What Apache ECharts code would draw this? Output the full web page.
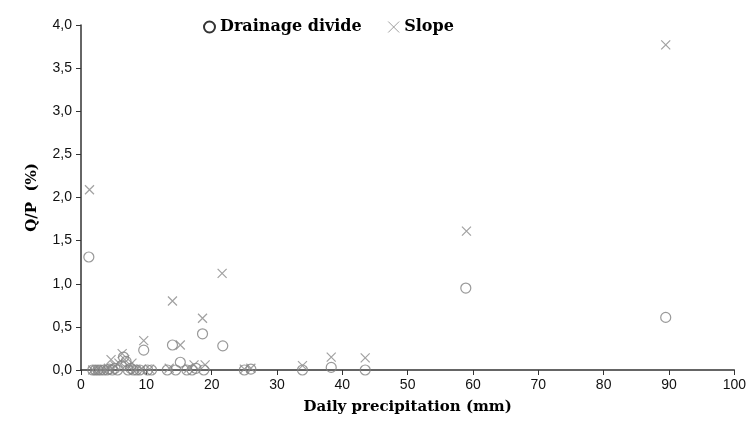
<!DOCTYPE html>
<html>
<head>
<meta charset="utf-8">
<script src="https://cdn.jsdelivr.net/npm/echarts@6/dist/echarts.min.js"></script>
<style>
html,body{margin:0;padding:0;background:#fff;}
#c{width:749px;height:422px;}
</style>
</head>
<body>
<div id="c"></div>
<script>
const seriesNames = ['Drainage divide', 'Slope'];
const drainageDivide = [
  [1.2,1.31],[1.8,0],[2.2,0],[2.6,0],[3.0,0],[3.5,0],[4.0,0],[4.3,0.01],[4.8,0],[5.2,0.02],
  [5.6,0],[6.2,0.05],[6.5,0.15],[6.9,0.1],[7.2,0],[7.6,0.02],[8.0,0],[8.5,0],[9.0,0],[9.6,0.23],
  [10.2,0],[10.8,0],[13.2,0],[14.0,0.29],[14.5,0],[15.2,0.09],[16.2,0],[17.0,0],[17.6,0.02],
  [18.6,0.42],[18.8,0],[21.7,0.28],[25.0,0],[26.0,0.01],[33.9,0],[38.3,0.03],[43.5,0],
  [58.9,0.95],[89.5,0.61]
];
const slope = [
  [1.3,2.09],[1.8,0],[2.4,0],[3.0,0],[3.6,0],[4.2,0.02],[4.6,0.12],[5.2,0.05],[5.8,0.08],
  [6.3,0.19],[6.7,0.12],[7.3,0.04],[7.8,0.08],[8.4,0],[9.2,0.01],[9.6,0.34],[10.5,0.01],
  [13.5,0.02],[14.0,0.8],[15.2,0.29],[16.5,0.02],[17.3,0.06],[18.6,0.6],[19.0,0.06],
  [21.6,1.12],[25.0,0.01],[26.0,0.02],[33.9,0.05],[38.3,0.15],[43.5,0.14],[59.0,1.61],[89.5,3.77]
];
const xAxisName = 'Daily precipitation (mm)';
const yAxisName = 'Q/P  (%)';

const crossPath = 'path://M0,0L10,10M10,0L0,10';
const chart = echarts.init(document.getElementById('c'));
chart.setOption({
  animation: false,
  backgroundColor: '#fff',
  grid: {left: 81, right: 13, top: 25, bottom: 52},
  legend: {
    top: 14, left: 198,
    itemGap: 26, itemWidth: 11, itemHeight: 11,
    textStyle: {fontFamily: 'DejaVu Serif', fontWeight: 'bold', fontSize: 16, color: '#000'},
    data: [
      {name: seriesNames[0], icon: 'circle', itemStyle: {color: 'rgba(0,0,0,0)', borderColor: '#000', borderWidth: 2}},
      {name: seriesNames[1], icon: crossPath, itemStyle: {color: 'rgba(0,0,0,0)', borderColor: '#888', borderWidth: 1}}
    ]
  },
  xAxis: {
    type: 'value', min: 0, max: 100, interval: 10,
    name: xAxisName, nameLocation: 'middle', nameGap: 30,
    nameTextStyle: {fontFamily: 'DejaVu Serif', fontWeight: 'bold', fontSize: 15, color: '#000'},
    axisLine: {lineStyle: {color: '#333', width: 1.5}},
    axisTick: {show: true, length: 5, lineStyle: {color: '#333'}},
    axisLabel: {fontFamily: 'Liberation Sans', fontSize: 14, color: '#111', margin: 8},
    splitLine: {show: false}
  },
  yAxis: {
    type: 'value', min: 0, max: 4, interval: 0.5,
    name: yAxisName, nameLocation: 'middle', nameGap: 41, nameRotate: 90,
    nameTextStyle: {fontFamily: 'DejaVu Serif', fontWeight: 'bold', fontSize: 15, color: '#000'},
    axisLine: {show: true, lineStyle: {color: '#333', width: 1.5}},
    axisTick: {show: true, length: 5, lineStyle: {color: '#333'}},
    axisLabel: {fontFamily: 'Liberation Sans', fontSize: 14, color: '#111', margin: 9,
      formatter: v => v.toFixed(1).replace('.', ',')},
    splitLine: {show: false}
  },
  series: [
    {
      name: seriesNames[0], type: 'scatter', data: drainageDivide, clip: false,
      symbol: 'circle', symbolSize: 10,
      itemStyle: {color: 'rgba(0,0,0,0)', borderColor: '#808080', borderWidth: 1.2}
    },
    {
      name: seriesNames[1], type: 'scatter', data: slope, clip: false,
      symbol: crossPath, symbolSize: 9,
      itemStyle: {color: 'rgba(0,0,0,0)', borderColor: '#8a8a8a', borderWidth: 1.2}
    }
  ]
});
</script>
</body>
</html>
